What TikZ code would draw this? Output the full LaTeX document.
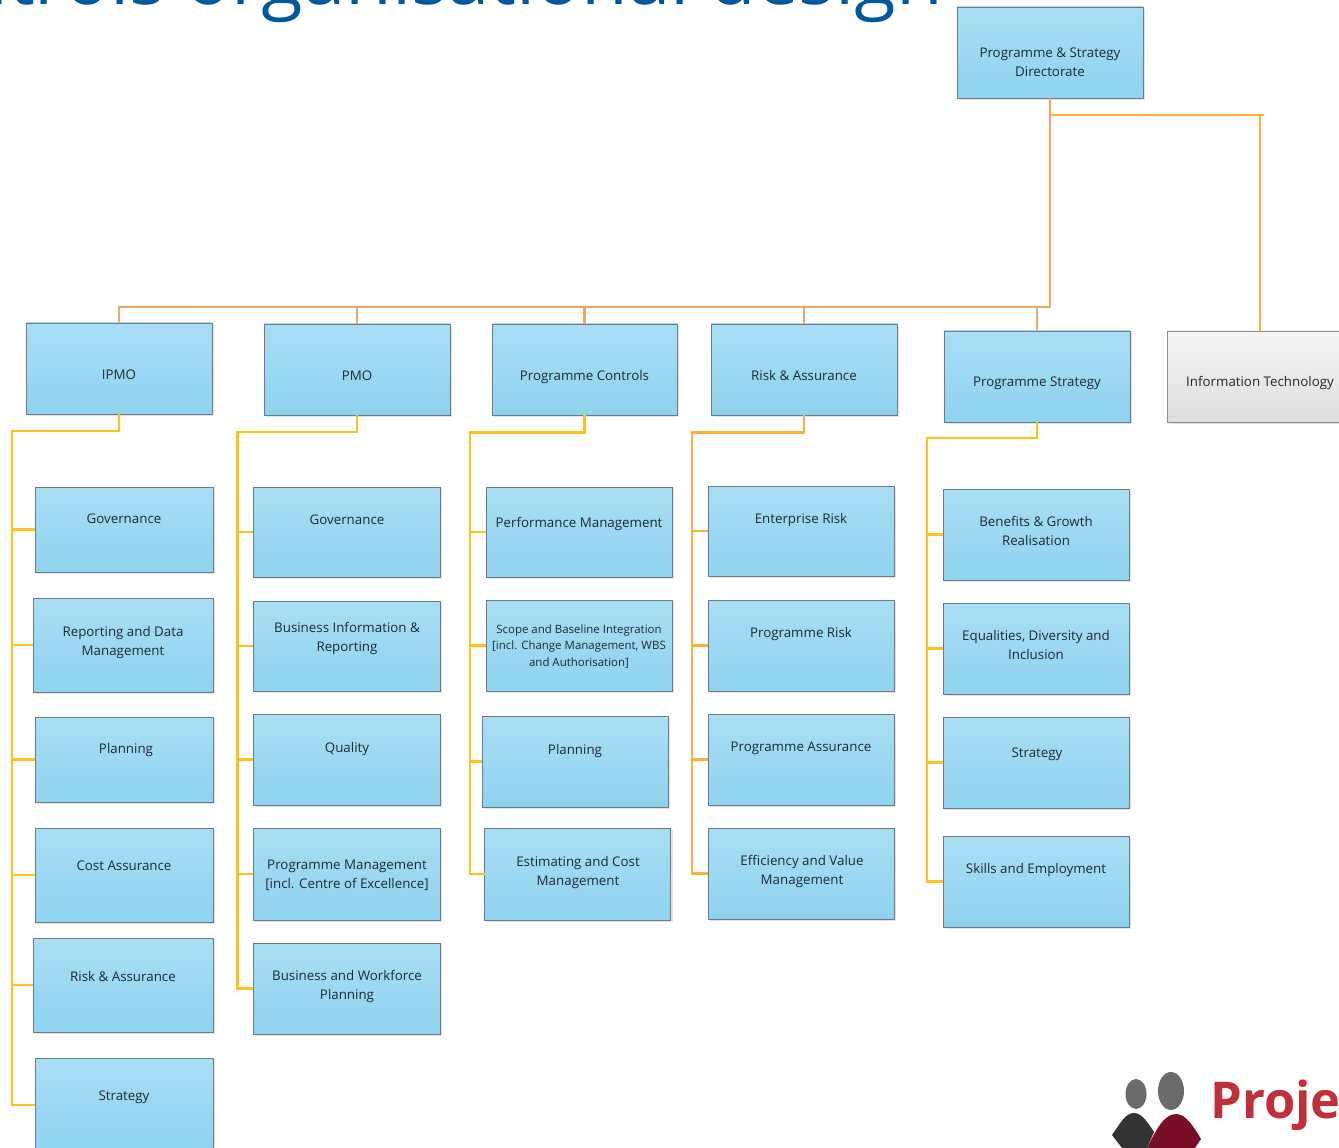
\documentclass[tikz,border=0pt]{standalone}
\usepackage{fontspec}
\setmainfont{Open Sans}
\usetikzlibrary{shadows}
\definecolor{boxtop}{HTML}{A9DEF4}
\definecolor{boxbot}{HTML}{8FD3EF}
\definecolor{boxline}{HTML}{6B7C86}
\definecolor{txt}{HTML}{1E2A32}
\definecolor{titleblue}{HTML}{00599C}
\definecolor{busorange}{HTML}{EFA566}
\definecolor{busamber}{HTML}{FFB03C}
\definecolor{busyellow}{HTML}{FFC21A}
\definecolor{logored}{HTML}{C0303A}
\definecolor{logomaroon}{HTML}{7A0F28}
\tikzset{
  boxs/.style={draw=boxline,line width=0.65pt,top color=boxtop,bottom color=boxbot,inner sep=0pt,outer sep=0pt,
    general shadow={fill=black!11,shadow xshift=1.8pt,shadow yshift=-1.8pt}},
  greybox/.style={draw=black!45,line width=0.65pt,top color=white!96!black,bottom color=black!13,inner sep=0pt,outer sep=0pt,
    general shadow={fill=black!11,shadow xshift=1.8pt,shadow yshift=-1.8pt}},
  lab/.style={text=txt,align=center,inner sep=0pt,yshift=-1.5pt,font=\fontsize{10}{14.25}\selectfont},
  smalllab/.style={text=txt,align=center,inner sep=0pt,yshift=-0.8pt,font=\fontsize{8.6}{12.4}\selectfont},
  topbus/.style={draw=busorange,line width=1.7pt,line join=miter},
  amberbus/.style={draw=busamber,line width=1.7pt,line join=miter},
  ybus/.style={draw=busyellow,line width=1.7pt,line join=miter},
}
\def\lbs{lab}
% name, x1, y1, x2, y2, style, text x, text y, text
\newcommand\bx[9]{%
  \pgfmathsetmacro\bw{(#4-#2)*0.75}\pgfmathsetmacro\bh{(#5-#3)*0.75}%
  \pgfmathsetmacro\cx{(#2+#4)/2}\pgfmathsetmacro\cy{(#3+#5)/2}%
  \node[#6,minimum width=\bw pt,minimum height=\bh pt] (#1) at (\cx,\cy) {};%
  \node[\lbs] (#1t) at (#7,#8) {\rule{0pt}{7.6pt}#9\rule[-2.4pt]{0pt}{2.4pt}};}
\begin{document}
\begin{tikzpicture}[x=0.75pt,y=-0.75pt]
\useasboundingbox (0,0) rectangle (1339,1148);
\clip (0,0) rectangle (1339,1148);
\node[anchor=base east,inner sep=0pt,text=titleblue,font=\fontsize{57}{57}\selectfont] (title) at (943,4.5) {ntrols organisational design};

\bx{dir}{957}{7}{1143}{98}{boxs}{1050}{61.5}{Programme \& Strategy\\Directorate}
\bx{ipmo}{26}{323}{212}{414}{boxs}{119}{374}{IPMO}
\bx{pmo}{264}{324}{450}{415}{boxs}{357}{375}{PMO}
\bx{ctrl}{492}{324}{677}{415}{boxs}{584.5}{375}{Programme Controls}
\bx{risk}{711}{324}{897}{415}{boxs}{804}{375}{Risk \& Assurance}
\bx{pstr}{944}{331}{1130}{422}{boxs}{1037}{381}{Programme Strategy}
\bx{itb}{1167}{331}{1353}{422}{greybox}{1260}{381}{Information Technology}

\bx{a1}{35}{487}{213}{572}{boxs}{124}{518}{Governance}
\bx{a2}{33}{598}{213}{692}{boxs}{123}{640.5}{Reporting and Data\\Management}
\bx{a3}{35}{717}{213}{802}{boxs}{126}{748}{Planning}
\bx{a4}{35}{828}{213}{922}{boxs}{124}{865}{Cost Assurance}
\bx{a5}{33}{938}{213}{1032}{boxs}{123}{976}{Risk \& Assurance}
\bx{a6}{35}{1058}{213}{1152}{boxs}{124}{1095}{Strategy}

\bx{b1}{253}{487}{440}{577}{boxs}{347}{519}{Governance}
\bx{b2}{253}{601}{440}{691}{boxs}{347}{636.5}{Business Information \&\\Reporting}
\bx{b3}{253}{714}{440}{805}{boxs}{347}{747}{Quality}
\bx{b4}{253}{828}{440}{920}{boxs}{347}{873.5}{Programme Management\\{}[incl. Centre of Excellence]}
\bx{b5}{253}{943}{440}{1034}{boxs}{347}{984.5}{Business and Workforce\\Planning}

\bx{c1}{486}{487}{672}{577}{boxs}{579}{522}{Performance Management}
\def\lbs{smalllab}
\bx{c2}{486}{600}{672}{691}{boxs}{579}{645}{Scope and Baseline Integration\\{}[incl. Change Management, WBS\\and Authorisation]}
\def\lbs{lab}
\bx{c3}{482}{716}{668}{807}{boxs}{575}{749}{Planning}
\bx{c4}{484.5}{828}{670.5}{920}{boxs}{578}{870.5}{Estimating and Cost\\Management}

\bx{d1}{708}{486}{894}{576}{boxs}{801}{518}{Enterprise Risk}
\bx{d2}{708}{600}{894}{691}{boxs}{801}{632}{Programme Risk}
\bx{d3}{708}{714}{894}{805}{boxs}{801}{746}{Programme Assurance}
\bx{d4}{708}{828}{894}{919}{boxs}{802}{869.5}{Efficiency and Value\\Management}

\bx{e1}{943}{489}{1129}{580}{boxs}{1036}{530.5}{Benefits \& Growth\\Realisation}
\bx{e2}{943}{603}{1129}{694}{boxs}{1036}{644.5}{Equalities, Diversity and\\Inclusion}
\bx{e3}{943}{717}{1129}{808}{boxs}{1037}{752}{Strategy}
\bx{e4}{943}{836}{1129}{927}{boxs}{1036}{868}{Skills and Employment}

% bus levels and trunks
\coordinate (busy) at (0,307);
\coordinate (ity) at (0,115);
\coordinate (itend) at (1264,115);
\coordinate (atr) at (12,431);
\coordinate (btr) at (237.5,432);
\coordinate (ctr) at (470,432.5);
\coordinate (dtr) at (692,432.5);
\coordinate (etr) at (927,438);

% top level
\draw[topbus] (dir.south) -- (dir.south |- busy) -- (ipmo.north |- busy) -- (ipmo.north);
\foreach \n in {pmo,ctrl,risk,pstr} \draw[topbus] (\n.north |- busy) -- (\n.north);
\draw[amberbus] (dir.south |- ity) -- (itend);
\draw[topbus,draw=busamber] (itb.north |- ity) -- (itb.north);

% IPMO column
\draw[ybus] (ipmo.south) |- (atr) -- (atr |- a6.west) -- (a6.west);
\foreach \n in {a1,a2,a3,a4,a5} \draw[ybus] (atr |- \n.west) -- (\n.west);
% PMO column
\draw[ybus] (pmo.south) |- (btr) -- (btr |- b5.west) -- (b5.west);
\foreach \n in {b1,b2,b3,b4} \draw[ybus] (btr |- \n.west) -- (\n.west);
% Programme Controls column
\draw[ybus] (ctrl.south) |- (ctr) -- (ctr |- c4.west) -- (c4.west);
\foreach \n in {c1,c2,c3} \draw[ybus] (ctr |- \n.west) -- (\n.west);
% Risk column
\draw[amberbus] (risk.south) |- (dtr) -- (dtr |- d4.west) -- (d4.west);
\foreach \n in {d1,d2,d3} \draw[amberbus] (dtr |- \n.west) -- (\n.west);
% Programme Strategy column
\draw[ybus] (pstr.south) |- (etr) -- (etr |- e4.west) -- (e4.west);
\foreach \n in {e1,e2,e3} \draw[ybus] (etr |- \n.west) -- (\n.west);

% logo
\fill[black!58] (1136,1094) ellipse [x radius=10.5,y radius=15];
\fill[black!58] (1171,1091) ellipse [x radius=13,y radius=19];
\fill[black!80] (1112,1135) .. controls (1120,1124) and (1125,1113) .. (1134,1113) .. controls (1142,1113) and (1148,1123) .. (1154,1132) -- (1147,1148) -- (1122,1148) -- cycle;
\fill[logomaroon] (1147,1148) .. controls (1156,1130) and (1164,1114) .. (1176,1114) .. controls (1186,1114) and (1194,1127) .. (1201,1139) -- (1195,1148) -- cycle;
\node[anchor=base west,inner sep=0pt,text=logored,font=\fontsize{38}{38}\selectfont\bfseries] (proje) at (1210,1118) {Proje};
\end{tikzpicture}
\end{document}
